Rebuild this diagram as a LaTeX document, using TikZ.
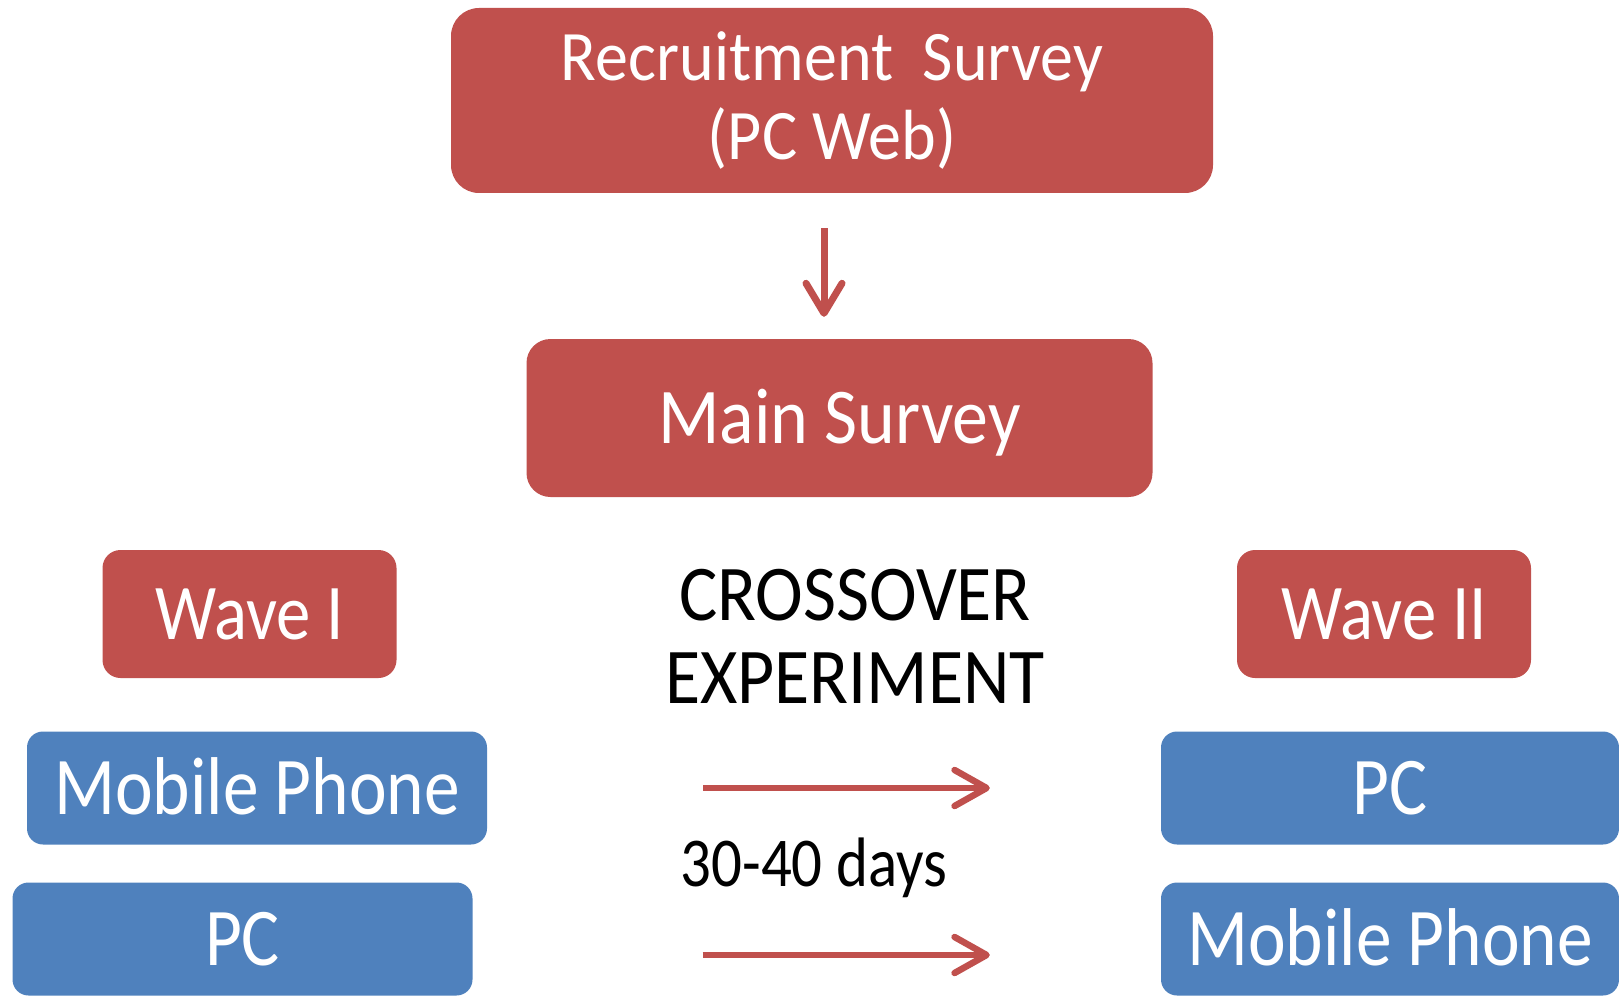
\documentclass[tikz,border=0pt]{standalone}
\usepackage{fontspec}
\setmainfont{Carlito}[FakeStretch=0.87]
\newfontfamily\widefont{Carlito}[FakeStretch=0.91]
\newfontfamily\widerfont{Carlito}[FakeStretch=0.93]
\usetikzlibrary{arrows.meta}
\definecolor{boxred}{HTML}{C0504D}
\definecolor{boxblue}{HTML}{4F81BD}
\begin{document}
\begin{tikzpicture}[x=1pt,y=-1pt,
  redbox/.style={fill=boxred, text=white, inner sep=0pt, align=center},
  bluebox/.style={fill=boxblue, text=white, inner sep=0pt, rounded corners=16pt,
    minimum width=460pt, minimum height=113pt, text height=52pt, text depth=0pt,
    font=\fontsize{82}{90}\selectfont},
  wavebox/.style={redbox, rounded corners=18pt, minimum width=294pt, minimum height=128pt,
    text height=50pt, text depth=0pt, font=\fontsize{79}{90}\selectfont},
  vconn/.style={draw=boxred, line width=7pt, -{Straight Barb[length=30pt, width=36pt, round]}},
  hconn/.style={draw=boxred, line width=6.5pt, -{Straight Barb[length=32pt, width=36pt, round]}}]
\useasboundingbox (0,0) rectangle (1619,1000);

\node[redbox, rounded corners=28pt, minimum width=762pt, minimum height=185pt,
  font=\widerfont\fontsize{71}{79}\selectfont] (rec) at (832,100.5) {Recruitment\ \ Survey\\(PC Web)};
\node[redbox, rounded corners=24pt, minimum width=626pt, minimum height=158pt,
  text height=50pt, text depth=0pt, font=\widefont\fontsize{79}{90}\selectfont] (main) at (839.5,418) {Main Survey};

\node[wavebox] (w1) at (249.5,614) {Wave I};
\node[wavebox] (w2) at (1384,614) {Wave II};

\node[bluebox] (mobL) at (257,788) {Mobile Phone};
\node[bluebox] (pcL) at (242.5,939) {PC};
\node[bluebox, minimum width=458pt] (pcR) at (1390,788) {PC};
\node[bluebox, minimum width=458pt] (mobR) at (1390,939) {Mobile Phone};

\node[font=\widefont\fontsize{79}{83}\selectfont, align=center] (cross) at (855,636) {CROSSOVER\\EXPERIMENT};
\node[font=\fontsize{70}{80}\selectfont, anchor=base] (days) at (814,886) {30-40 days};

\coordinate (vx) at (824,0);
\coordinate (hy) at (0,955);
\draw[vconn, shorten <=35pt, shorten >=22pt] (rec.south -| vx) -- (main.north -| vx);
\draw[hconn, shorten <=216pt, shorten >=171pt] (mobL.east) -- (pcR.west);
\draw[hconn, shorten <=230pt, shorten >=171pt] (pcL.east |- hy) -- (mobR.west |- hy);
\end{tikzpicture}
\end{document}
